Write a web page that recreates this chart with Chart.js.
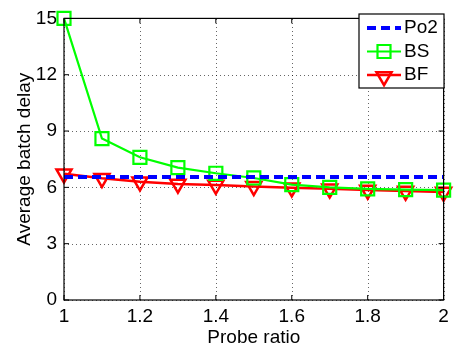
<!DOCTYPE html>
<html>
<head>
<meta charset="utf-8">
<script src="https://cdn.jsdelivr.net/npm/chart.js@4/dist/chart.umd.min.js"></script>
<style>
  html, body { margin: 0; padding: 0; background: #fff; }
  #wrap { width: 455px; height: 349px; }
</style>
</head>
<body>
<div id="wrap"><canvas id="js-chart" width="455" height="349"></canvas></div>
<script>
// values
const probeRatio = [1, 1.1, 1.2, 1.3, 1.4, 1.5, 1.6, 1.7, 1.8, 1.9, 2];
const po2Delay = [6.55, 6.55, 6.55, 6.55, 6.55, 6.55, 6.55, 6.55, 6.55, 6.55, 6.55];
const bsDelay = [15.0, 8.6, 7.6, 7.05, 6.75, 6.5, 6.15, 6.0, 5.92, 5.88, 5.85];
const bfDelay = [6.72, 6.48, 6.3, 6.18, 6.12, 6.05, 5.98, 5.92, 5.86, 5.8, 5.75];
const xTicks = [1, 1.2, 1.4, 1.6, 1.8, 2];
const yTicks = [0, 3, 6, 9, 12, 15];
const seriesNames = ["Po2", "BS", "BF"];

const FONT = "'Liberation Sans', Arial, Helvetica, sans-serif";
const FONT_SIZE = 19;
const Chart = window.Chart;

const toPoints = (ys) => probeRatio.map((x, i) => ({ x: x, y: ys[i] }));

// dotted grid behind the lines, box and inward ticks on top (matlab look)
const boxPlugin = {
  id: "box",
  beforeDatasetsDraw(chart) {
    const { ctx, chartArea: a, scales } = chart;
    ctx.save();
    ctx.strokeStyle = "rgba(0,0,0,0.6)";
    ctx.lineWidth = 1;
    ctx.setLineDash([1, 3]);
    ctx.beginPath();
    for (const v of xTicks) {
      const px = Math.round(scales.x.getPixelForValue(v)) + 0.5;
      ctx.moveTo(px, a.bottom); ctx.lineTo(px, a.top);
    }
    for (const v of yTicks) {
      const py = Math.round(scales.y.getPixelForValue(v)) + 0.5;
      ctx.moveTo(a.left, py); ctx.lineTo(a.right, py);
    }
    ctx.stroke();
    ctx.restore();
  },
  afterDatasetsDraw(chart) {
    const { ctx, chartArea: a, scales } = chart;
    ctx.save();
    ctx.strokeStyle = "#000";
    ctx.lineWidth = 1.2;
    ctx.strokeRect(a.left, a.top, a.right - a.left, a.bottom - a.top);
    ctx.lineWidth = 1;
    ctx.beginPath();
    for (const v of xTicks) {
      const px = scales.x.getPixelForValue(v);
      ctx.moveTo(px, a.bottom); ctx.lineTo(px, a.bottom - 5);
      ctx.moveTo(px, a.top); ctx.lineTo(px, a.top + 5);
    }
    for (const v of yTicks) {
      const py = scales.y.getPixelForValue(v);
      ctx.moveTo(a.left, py); ctx.lineTo(a.left + 5, py);
      ctx.moveTo(a.right, py); ctx.lineTo(a.right - 5, py);
    }
    ctx.stroke();
    ctx.restore();
  },
};

// legend with line + marker samples
const legendPlugin = {
  id: "matLegend",
  afterDraw(chart) {
    const { ctx } = chart;
    const bx = 359, by = 14, bw = 85, bh = 74;
    ctx.save();
    ctx.fillStyle = "#fff";
    ctx.fillRect(bx, by, bw, bh);
    ctx.strokeStyle = "#000";
    ctx.lineWidth = 1.2;
    ctx.strokeRect(bx, by, bw, bh);
    chart.data.datasets.forEach((ds, i) => {
      const cy = by + 14 + i * 23.5;
      ctx.strokeStyle = ds.borderColor;
      ctx.lineWidth = ds.borderWidth;
      ctx.setLineDash(ds.borderDash || []);
      ctx.beginPath();
      ctx.moveTo(bx + 8, cy);
      ctx.lineTo(bx + 42, cy);
      ctx.stroke();
      ctx.setLineDash([]);
      if (ds.pointRadius > 0) {
        ctx.lineWidth = ds.pointBorderWidth;
        ctx.fillStyle = "rgba(0,0,0,0)";
        Chart.helpers.drawPoint(ctx, {
          pointStyle: ds.pointStyle,
          rotation: ds.pointRotation || 0,
          radius: ds.pointRadius,
          borderWidth: ds.pointBorderWidth,
        }, bx + 25, cy + (ds.pointStyle === "triangle" ? 1.5 : 0));
      }
      ctx.fillStyle = "#000";
      ctx.font = FONT_SIZE + "px " + FONT;
      ctx.textBaseline = "middle";
      ctx.textAlign = "left";
      ctx.fillText(ds.label, bx + 45, cy);
    });
    ctx.restore();
  },
};

new Chart(document.getElementById("js-chart"), {
  type: "line",
  data: {
    datasets: [
      {
        label: seriesNames[0],
        data: toPoints(po2Delay),
        borderColor: "#0000ff",
        borderWidth: 4,
        borderDash: [9, 5],
        pointRadius: 0,
        clip: false,
      },
      {
        label: seriesNames[1],
        data: toPoints(bsDelay),
        borderColor: "#00ff00",
        borderWidth: 2.2,
        pointStyle: "rect",
        pointRadius: 9.2,
        pointBorderWidth: 2.2,
        pointBorderColor: "#00ff00",
        pointBackgroundColor: "rgba(0,0,0,0)",
        clip: false,
      },
      {
        label: seriesNames[2],
        data: toPoints(bfDelay),
        borderColor: "#ff0000",
        borderWidth: 2.5,
        pointStyle: "triangle",
        pointRotation: 180,
        pointRadius: 8.7,
        pointBorderWidth: 2.5,
        pointBorderColor: "#ff0000",
        pointBackgroundColor: "rgba(0,0,0,0)",
        clip: false,
      },
    ],
  },
  options: {
    responsive: false,
    animation: false,
    layout: { padding: { left: 7, right: 6, top: 11, bottom: 0 } },
    plugins: {
      legend: { display: false },
      tooltip: { enabled: false },
    },
    elements: { line: { tension: 0 } },
    scales: {
      x: {
        type: "linear",
        min: 1,
        max: 2,
        afterFit: (scale) => { scale.height = 49; },
        afterBuildTicks: (scale) => { scale.ticks = xTicks.map((v) => ({ value: v })); },
        grid: { display: false, drawTicks: false },
        border: { display: false },
        ticks: {
          padding: 5,
          color: "#000",
          font: { family: FONT, size: FONT_SIZE },
          callback: (v) => String(v),
        },
        title: {
          display: true,
          text: "Probe ratio",
          color: "#000",
          font: { family: FONT, size: FONT_SIZE },
          padding: { top: 0, bottom: 0 },
        },
      },
      y: {
        min: 0,
        max: 15,
        afterFit: (scale) => { scale.width = 57; },
        afterBuildTicks: (scale) => { scale.ticks = yTicks.map((v) => ({ value: v })); },
        grid: { display: false, drawTicks: false },
        border: { display: false },
        ticks: {
          padding: 7,
          color: "#000",
          font: { family: FONT, size: FONT_SIZE },
        },
        title: {
          display: true,
          text: "Average batch delay",
          color: "#000",
          font: { family: FONT, size: FONT_SIZE },
          padding: { top: 6, bottom: 0 },
        },
      },
    },
  },
  plugins: [boxPlugin, legendPlugin],
});
</script>
</body>
</html>
